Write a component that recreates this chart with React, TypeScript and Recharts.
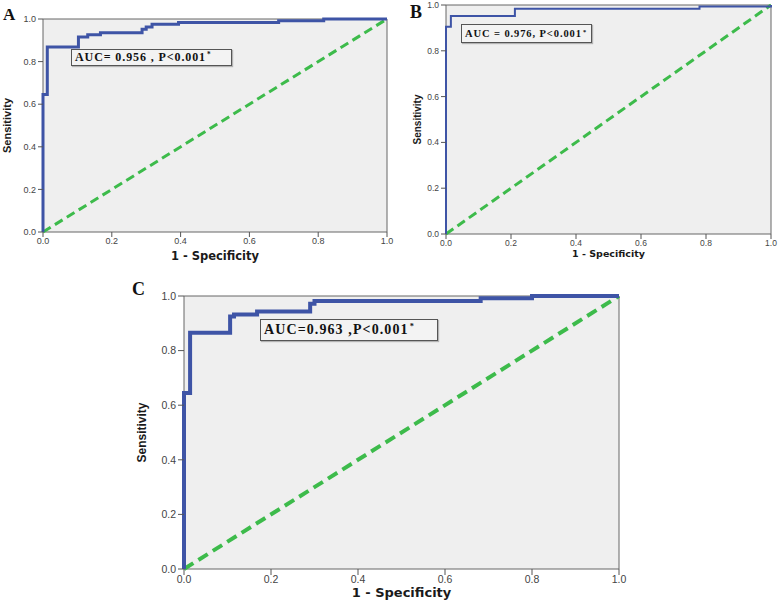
import React from 'react';
import { LineChart, Line, XAxis, YAxis, CartesianGrid, ReferenceArea } from 'recharts';

// ---------- data ----------
const axisTicks = [0, 0.2, 0.4, 0.6, 0.8, 1.0];

// Panel A ROC (1 - specificity, sensitivity)
const fprA = [0, 0, 0.0125, 0.103, 0.13, 0.167, 0.288, 0.3, 0.317, 0.394, 0.685, 0.816, 1];
const tprA = [0, 0.645, 0.868, 0.915, 0.926, 0.935, 0.952, 0.963, 0.975, 0.983, 0.992, 1, 1];

// Panel B ROC
const fprB = [0, 0, 0.015, 0.212, 0.78, 1];
const tprB = [0, 0.905, 0.952, 0.984, 0.993, 1];

// Panel C ROC
const fprC = [0, 0, 0.014, 0.106, 0.115, 0.168, 0.29, 0.3, 0.682, 0.8, 1];
const tprC = [0, 0.645, 0.865, 0.925, 0.932, 0.943, 0.972, 0.982, 0.992, 1, 1];

// Reference (chance) line
const refFpr = [0, 1];
const refTpr = [0, 1];

const panelLetters = ['A', 'B', 'C'];
const aucTexts = ['AUC= 0.956 , P<0.001', 'AUC = 0.976, P<0.001', 'AUC=0.963 ,P<0.001'];
const xTitle = '1 - Specificity';
const yTitle = 'Sensitivity';

const BLUE = '#3E54A6';
const GREEN = '#3DBB4B';
const PLOT_BG = '#efefef';

const sansFont = "'Liberation Sans', Arial, sans-serif";
const wideBold = "'DejaVu Sans', Verdana, sans-serif";
const narrowBold = "'Liberation Sans Narrow', 'Arial Narrow', 'Liberation Sans', sans-serif";
const serifFont = "'Liberation Serif', 'Times New Roman', serif";

type PanelProps = {
  left: number; top: number; width: number; height: number;
  plotLeft: number; plotTop: number; plotRight: number; plotBottom: number;
  yAxisWidth: number; xAxisHeight: number;
  fpr: number[]; tpr: number[];
  tickFont: number; tickSize: number;
  xTitleFont: number; yTitleFont: number;
  xTitleOffset: number; yTitleOffset: number;
  lineWidth: number; diagWidth: number; dash: string;
};

function Panel(p: PanelProps) {
  const roc = p.fpr.map((x, i) => ({ x, y: p.tpr[i] }));
  const ref = refFpr.map((x, i) => ({ x, y: refTpr[i] }));
  const margin = {
    left: p.plotLeft - p.yAxisWidth,
    top: p.plotTop,
    right: p.width - p.plotRight,
    bottom: p.height - p.plotBottom - p.xAxisHeight,
  };
  const tickStyle = { fontSize: p.tickFont, fill: '#444', fontFamily: sansFont };
  return (
    <div style={{ position: 'absolute', left: p.left, top: p.top }}>
      <LineChart width={p.width} height={p.height} margin={margin}>
        <CartesianGrid fill={PLOT_BG} horizontal={false} vertical={false} stroke="none" />
        <XAxis
          type="number"
          dataKey="x"
          domain={[0, 1]}
          ticks={axisTicks}
          tickFormatter={(v: number) => v.toFixed(1)}
          axisLine={false}
          tickLine={{ stroke: '#555' }}
          tickSize={p.tickSize}
          tickMargin={1}
          height={p.xAxisHeight}
          tick={tickStyle}
          interval={0}
          label={{
            value: xTitle,
            position: 'insideBottom',
            offset: p.xTitleOffset,
            style: { fontSize: p.xTitleFont, fontWeight: 'bold', fontFamily: wideBold, fill: '#1a1a1a' },
          }}
        />
        <YAxis
          type="number"
          dataKey="y"
          domain={[0, 1]}
          ticks={axisTicks}
          tickFormatter={(v: number) => v.toFixed(1)}
          axisLine={false}
          tickLine={{ stroke: '#555' }}
          tickSize={p.tickSize}
          tickMargin={2}
          width={p.yAxisWidth}
          tick={tickStyle}
          interval={0}
          label={{
            value: yTitle,
            angle: -90,
            position: 'insideLeft',
            offset: p.yTitleOffset,
            textAnchor: 'middle',
            style: { textAnchor: 'middle', fontSize: p.yTitleFont, fontWeight: 'bold', fontFamily: narrowBold, fill: '#1a1a1a' },
          }}
        />
        <ReferenceArea x1={0} x2={1} y1={0} y2={1} fill="none" stroke="#666" strokeWidth={1} ifOverflow="visible" />
        <Line
          data={ref}
          dataKey="y"
          type="linear"
          stroke={GREEN}
          strokeWidth={p.diagWidth}
          strokeDasharray={p.dash}
          dot={false}
          activeDot={false}
          isAnimationActive={false}
        />
        <Line
          data={roc}
          dataKey="y"
          type="stepAfter"
          stroke={BLUE}
          strokeWidth={p.lineWidth}
          dot={false}
          activeDot={false}
          isAnimationActive={false}
        />
      </LineChart>
    </div>
  );
}

function Letter({ text, left, top, size }: { text: string; left: number; top: number; size: number }) {
  return (
    <div
      style={{
        position: 'absolute', left, top, fontFamily: serifFont, fontWeight: 'bold',
        fontSize: size, lineHeight: 1, color: '#111',
      }}
    >
      {text}
    </div>
  );
}

function AucBox({ text, left, top, width, height, size, spacing }: {
  text: string; left: number; top: number; width: number; height: number; size: number; spacing: number;
}) {
  return (
    <div
      style={{
        position: 'absolute', left, top, width, height, boxSizing: 'border-box',
        border: '1px solid #555', background: '#f3f3f3', boxShadow: '1px 1px 1px rgba(0,0,0,0.25)',
        display: 'flex', alignItems: 'center', paddingLeft: 3, whiteSpace: 'nowrap',
        fontFamily: serifFont, fontWeight: 'bold', fontSize: size, letterSpacing: spacing, color: '#111',
      }}
    >
      <span>
        {text}
        <span style={{ fontSize: '0.6em', position: 'relative', top: '-0.55em', marginLeft: 1 }}>*</span>
      </span>
    </div>
  );
}

export default function App() {
  return (
    <div style={{ position: 'absolute', left: 0, top: 0, width: 778, height: 601, background: '#fff', overflow: 'hidden' }}>
      <Panel
        left={0} top={0} width={400} height={270}
        plotLeft={43} plotTop={19} plotRight={387} plotBottom={232}
        yAxisWidth={40} xAxisHeight={30}
        fpr={fprA} tpr={tprA}
        tickFont={9} tickSize={5}
        xTitleFont={11.5} yTitleFont={11}
        xTitleOffset={2} yTitleOffset={4.5}
        lineWidth={3} diagWidth={3} dash="9 5"
      />
      <Panel
        left={390} top={0} width={388} height={270}
        plotLeft={56} plotTop={5} plotRight={381} plotBottom={234}
        yAxisWidth={40} xAxisHeight={30}
        fpr={fprB} tpr={tprB}
        tickFont={8.5} tickSize={5}
        xTitleFont={9.5} yTitleFont={10}
        xTitleOffset={7} yTitleOffset={11}
        lineWidth={2} diagWidth={3} dash="9 5"
      />
      <Panel
        left={130} top={270} width={510} height={331}
        plotLeft={54} plotTop={26} plotRight={489} plotBottom={299}
        yAxisWidth={45} xAxisHeight={30}
        fpr={fprC} tpr={tprC}
        tickFont={10.5} tickSize={6}
        xTitleFont={13} yTitleFont={12}
        xTitleOffset={2} yTitleOffset={3}
        lineWidth={4} diagWidth={4} dash="11 6"
      />
      <Letter text={panelLetters[0]} left={3} top={6} size={17} />
      <Letter text={panelLetters[1]} left={410} top={3} size={18} />
      <Letter text={panelLetters[2]} left={132} top={280} size={18} />
      <AucBox text={aucTexts[0]} left={71} top={49} width={161} height={17} size={12} spacing={0.9} />
      <AucBox text={aucTexts[1]} left={461} top={24} width={131} height={19} size={10.5} spacing={0.9} />
      <AucBox text={aucTexts[2]} left={260} top={319} width={178} height={22} size={14} spacing={1.1} />
    </div>
  );
}
